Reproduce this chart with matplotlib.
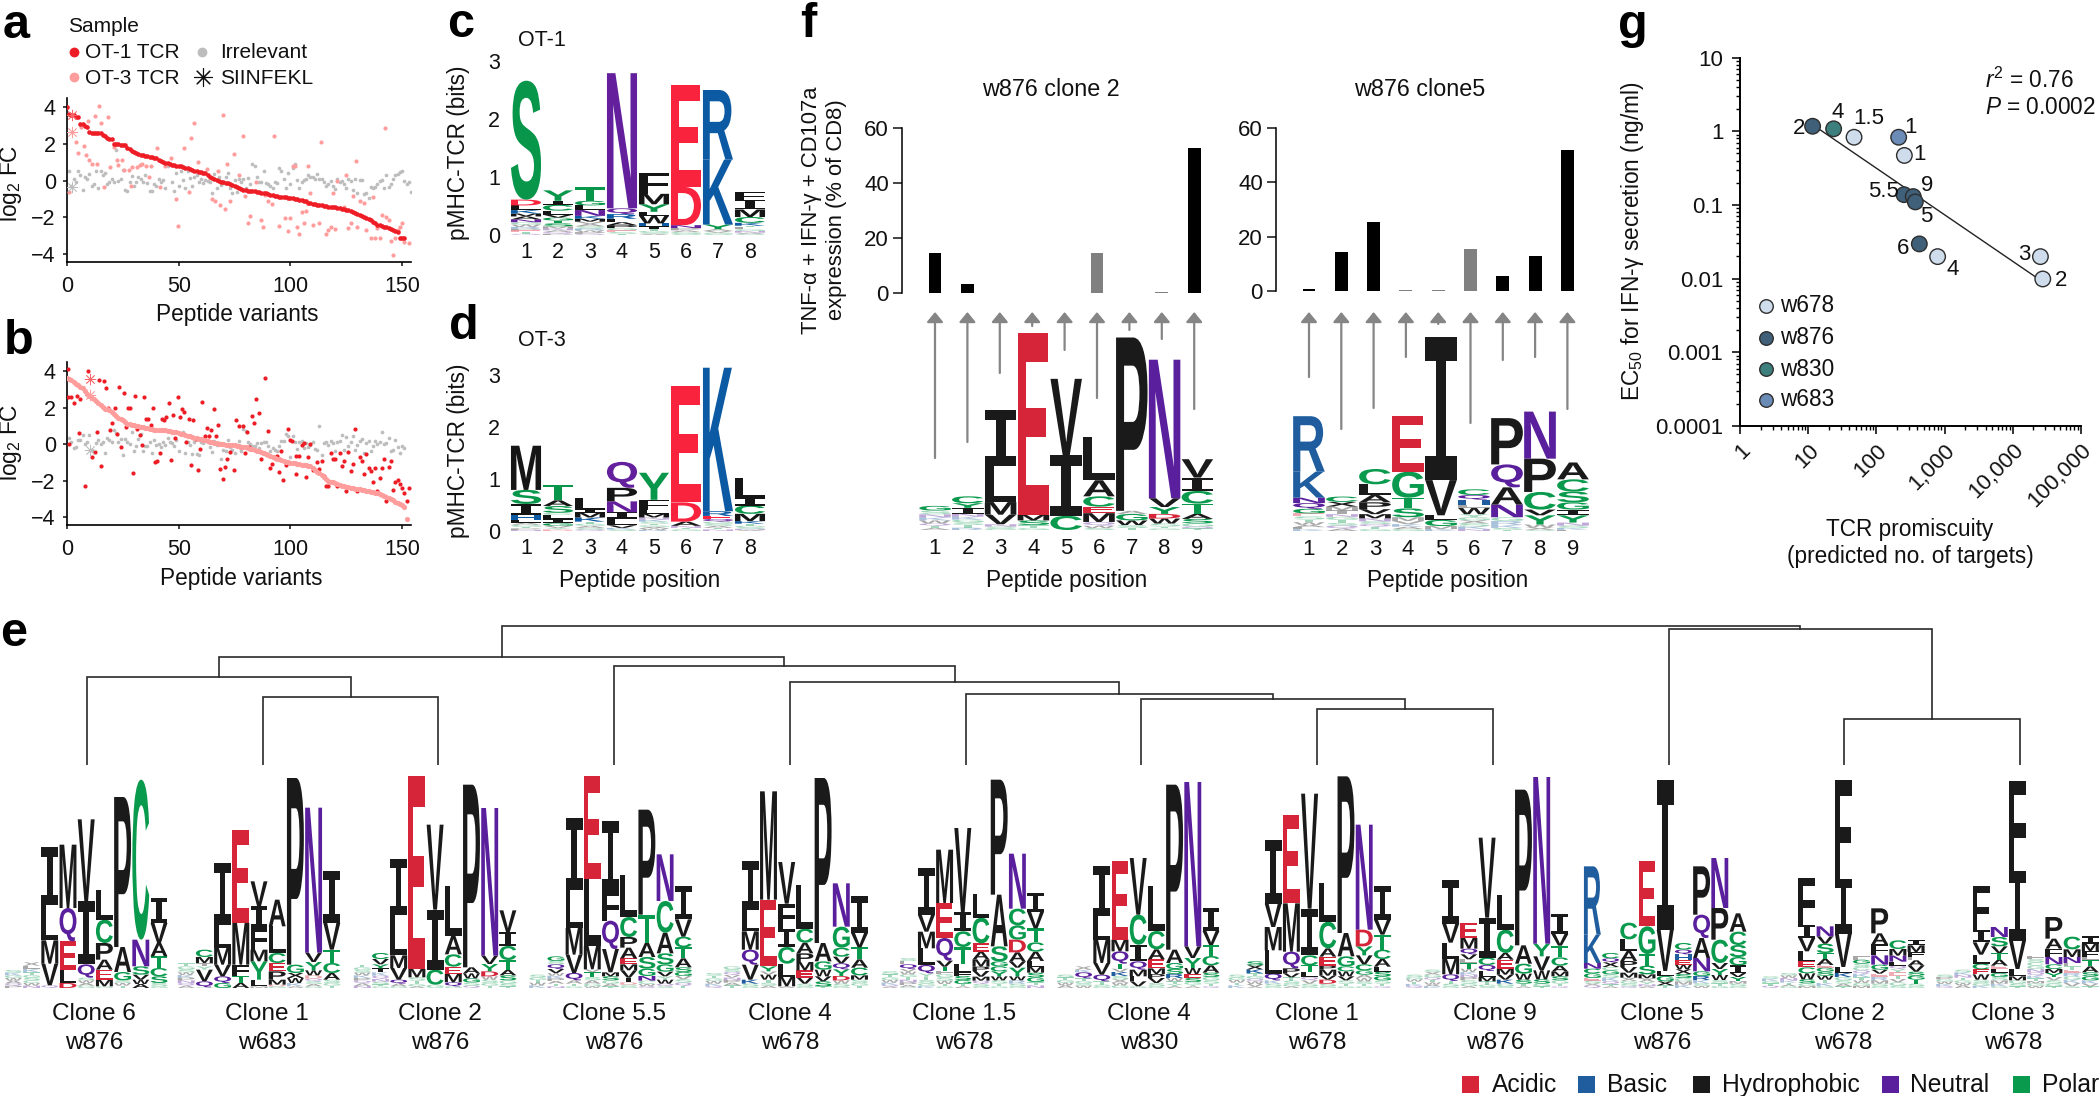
import numpy as np
import matplotlib
matplotlib.use("Agg")
import matplotlib.pyplot as plt
import matplotlib.ticker
from matplotlib.textpath import TextPath
from matplotlib.patches import PathPatch, Rectangle
from matplotlib.font_manager import FontProperties
from matplotlib.transforms import Affine2D

plt.rcParams['font.family'] = ['Liberation Sans', 'DejaVu Sans']
plt.rcParams['mathtext.fontset'] = 'custom'
plt.rcParams['mathtext.rm'] = 'Liberation Sans'
plt.rcParams['mathtext.it'] = 'Liberation Sans:italic'
plt.rcParams['mathtext.bf'] = 'Liberation Sans:bold'

# ---------- panel a / b data ----------
a_ot1 = [4.0,3.65,3.6,3.55,3.45,3.45,3.1,3.1,3.0,2.9,2.65,2.62,2.6,2.6,2.6,2.58,2.5,2.45,2.3,2.28,2.25,2.0,2.0,1.98,1.95,1.95,1.95,1.8,1.7,1.6,1.55,1.5,1.45,1.4,1.38,1.35,1.32,1.3,1.28,1.25,1.25,1.1,1.05,1.0,.95,.95,.9,.85,.85,.82,.8,.78,.75,.7,.68,.65,.6,.55,.5,.47,.45,.42,.4,.3,.2,.15,.1,.05,0,-.05,-.1,-.12,-.15,-.2,-.25,-.3,-.35,-.4,-.45,-.5,-.52,-.55,-.55,-.57,-.58,-.6,-.62,-.65,-.65,-.7,-.75,-.78,-.8,-.83,-.85,-.87,-.88,-.9,-.9,-.93,-.95,-.97,-1,-1,-1.03,-1.05,-1.1,-1.13,-1.2,-1.22,-1.25,-1.28,-1.3,-1.32,-1.35,-1.38,-1.4,-1.42,-1.42,-1.43,-1.45,-1.47,-1.5,-1.53,-1.55,-1.58,-1.6,-1.65,-1.7,-1.75,-1.8,-1.87,-1.95,-2,-2.05,-2.1,-2.15,-2.25,-2.3,-2.4,-2.42,-2.45,-2.5,-2.55,-2.6,-2.65,-2.7,-2.75,-2.8,-3.15,-3.15,-3.15]
a_ot3_x = [1,4,5,6.4,7.5,8.5,9.4,10,11,12.4,13.4,14.3,15.4,16.4,18.2,19.4,21,22.4,23,24.6,25.4,27.6,28.7,29,31.3,32.8,33.6,35.4,36.6,37.6,40.3,41.8,44,46.6,48.8,49.6,52.2,54.5,55.7,56.7,58.6,60.4,62.7,64.9,66.4,67.5,68.7,69.7,70.6,71.6,72.8,74.6,76.9,78.7,79.9,80.9,81.8,84.6,86.9,87.8,88.8,90,91.8,92.8,94.9,97.8,99,100,101,102,103,104,105,106,107,108,109,110,113,113.9,116,117,118,119,120,121,124,125,126,127,128,129.3,130,131,133,134,136,137,138,139,140,141,142.2,143,144,145,146,147,148,149,150,151,153]
a_ot3_y = [-.6,2.1,1.5,2.9,1.9,1.4,3.24,1.1,.9,3.5,.9,4.07,3.13,-.35,3.45,.75,1.85,1.14,.83,1.1,.56,.56,-.3,.74,.74,.83,.9,.8,.2,.8,1.77,-.34,.8,1.25,-1,-2.46,1.8,-.6,2.33,3.15,1,.4,.65,-1,-1.1,.5,-1.3,3.55,-1.55,.92,-1.1,1.43,.33,2.43,-.83,-2.33,-1.94,-.07,-2.15,-2.55,-.8,-1.12,-1.25,2.43,-2.46,-2.06,-2.75,-2.03,.8,.8,-2.5,-2.93,-1.7,-2.28,-1.65,.8,-.65,-2.43,-2.28,2.1,-2.88,-2.7,-2.55,-.67,-2.66,-.03,-1.43,.33,-2.6,-2.33,-.85,1.07,-2.5,-1.1,-1.2,-2.7,-3.15,-.9,-3.1,-2.6,-3.15,-1.88,2.86,-1.97,-2.15,-3.28,-4.05,-3.1,-2.7,-2.5,-2.3,-3.33,-3.42]
a_irr = [.5,-.3,.1,-.1,.55,.3,-.5,.2,.1,.35,-.3,-.2,.5,-.4,.5,.3,.4,-.2,-.05,.1,-.1,1.65,0,.1,.6,-.5,-.55,-.05,.25,-.3,-.1,.2,.1,-.05,.3,-.15,-.55,-.55,-.2,-.3,.1,-.1,.05,-.4,.8,.9,-.05,-.55,.4,-.3,.5,.05,-.4,.5,.15,-.3,.2,.3,-.1,.1,-.15,.05,0,-.1,-.7,.35,-.4,.2,-.25,-.15,.2,.4,-.4,-.65,.05,-.6,.1,-.1,.1,-.4,.15,-.2,.9,.8,.2,-.1,-.1,.55,-.15,-.2,-.3,-.4,-.1,-.15,.7,.5,.1,-.4,.4,-.2,.7,.9,.05,-.4,-.1,.05,.1,.3,.2,.2,.1,.35,.1,.1,-.1,-.3,-.2,0,-.3,-.45,.1,-.1,0,-.2,-.4,.1,0,-.5,.1,-.7,.05,.05,-.75,-.65,-.95,-.35,-.4,-.35,-.2,0,.05,-.4,.3,-.35,-.2,.1,.3,.35,.45,.5,0,-.2,-.1,-.6]
b_ot3 = [3.6,3.58,3.5,3.42,3.3,3.25,3.15,3.05,2.9,2.75,2.65,2.55,2.45,2.35,2.25,2.15,2.05,1.95,1.9,1.85,1.75,1.65,1.55,1.45,1.38,1.3,1.2,1.1,1.08,1.05,1.03,1.0,.97,.95,.92,.9,.88,.85,.82,.8,.79,.78,.77,.76,.75,.73,.71,.69,.67,.65,.62,.58,.54,.5,.45,.42,.4,.35,.33,.3,.28,.25,.2,.17,.14,.1,.08,.05,.02,0,-.01,-.02,-.03,-.04,-.05,-.07,-.09,-.11,-.13,-.15,-.18,-.21,-.24,-.27,-.3,-.35,-.4,-.45,-.5,-.55,-.6,-.65,-.7,-.75,-.8,-.84,-.88,-.92,-.96,-1,-1.02,-1.04,-1.06,-1.08,-1.1,-1.12,-1.14,-1.16,-1.18,-1.2,-1.3,-1.4,-1.5,-1.6,-1.7,-1.8,-1.9,-2,-2.05,-2.1,-2.15,-2.2,-2.23,-2.27,-2.3,-2.33,-2.37,-2.4,-2.42,-2.44,-2.46,-2.48,-2.5,-2.52,-2.55,-2.58,-2.61,-2.64,-2.67,-2.7,-2.75,-2.8,-2.85,-2.9,-2.95,-3.02,-3.08,-3.15,-3.22,-3.3,-3.35,-3.45,-4.1]
b_ot1_x = [.4,.4,1,2,3.3,4.3,5.2,6,7.2,8.2,9.3,11.2,12.4,13.3,14.3,15.2,16.4,17.3,18.2,19.3,20.3,21.3,22.2,23.3,24.3,25.4,26.3,27.3,28.4,29.4,30.3,31.3,32.5,33.4,34.3,35.4,36.4,37.5,38.4,39.4,40.4,41.5,42.4,43.4,44.4,45.5,46.4,47.5,48.5,49.6,50.6,51.5,52.5,53.4,54.5,55.5,56.6,57.6,58.5,59.6,60.6,61.6,62.5,63.6,64.6,65.7,66.6,67.6,68.7,69.7,70.6,71.8,72.8,74.6,75.7,76.9,77.6,78.7,79.6,80.8,81.5,82.7,83.7,84.8,85.8,86.9,87.6,88.8,89.9,90.8,91.8,92.8,93.8,94.8,95.8,96.9,97.9,98.8,99.9,100.9,102.7,102.7,104,105,106,107,108,109,110,112,113,114,115,116,117,118,119,120,121,122,123,124,125,126,127,128,129,130,131,132,133,134,135,136,137,138,139,140,141,142,143,144,145,146,147,148,149,150,151,152,153]
b_ot1_y = [4.1,2.6,0,2.6,2.27,2.65,.6,2.5,3.1,-2.3,4,-.7,-.44,.67,3.5,-1.22,3.44,3.05,2,.8,1.16,2,.53,3.13,-.13,2.82,.96,1.96,1.96,-1.56,2.62,.82,.5,-.07,2.6,1.4,1.36,1.04,1.96,-1,-.9,-.5,1.4,1.33,1.5,2.25,-.85,1.62,.35,2.6,1.5,1.95,1.76,.1,1.38,-1.16,1.3,.27,-1.44,-.27,2.3,.45,.9,.45,.8,1.9,.47,1.07,-1.36,-1.93,-1.24,-.8,-.45,-1.4,1.3,.98,-.18,.98,-.5,.67,-.18,1.53,1.15,2.5,1.7,-.8,-.5,3.63,.7,-1.33,-1.1,-.73,-.65,-1.55,-.4,-1.98,-1.13,.84,.2,.16,-.65,-1.64,-.67,-.05,.07,-1.82,-.7,.03,-1.42,-.96,-1.35,-.93,-1.76,-2.3,-2.3,-.47,-.82,-.82,-2.3,-.5,-1.18,-.95,-2.58,-.45,-1.47,-1.1,.84,-2.56,-.73,-.9,-1.62,-.55,-1.3,-1.45,-2.07,-1.33,-2.56,-1.85,-1.33,-.82,-3.1,-1.27,-.9,-2.5,-2.05,-1.96,-2.2,-2.4,-2.67,-3.1,-2.42]
b_irr = [.35,.1,-.2,-.15,.2,.25,.5,0,.1,.5,-.3,-.35,.05,.25,0,.1,-.5,.35,.2,.1,.8,.6,.1,.3,-.6,.3,.1,0,.65,-.4,-.1,.3,.55,-.35,-.1,-.1,.1,-.5,.2,-.05,0,-.15,.1,-.05,.35,.1,.05,-.1,.2,-.4,.55,.65,-.5,.1,-.05,-.55,.1,-.55,-.6,.1,.05,.35,.1,-.15,-.45,.15,-.05,.05,-.8,-.3,-.35,.2,-.15,-.3,-.5,-.05,.15,-.4,.85,.7,.1,0,-.1,-.1,.05,-.2,.05,.1,.1,-.1,-.35,-.2,-.3,-.35,-.1,.15,.15,.55,.45,-.7,.45,.1,-.25,.1,.15,-.2,.05,-.15,-.05,.1,-.25,-.3,1.0,-.6,.05,.1,-.05,.15,.05,-.4,.1,.15,.5,-.3,.4,-.1,.1,.45,-.3,-.05,.15,.3,-.5,.05,.15,-.35,-.1,.15,0,.1,.65,0,.05,.35,-.4,-.3,.2,-.15,-.5,-.1,-.2]
star_a_y = [3.55, 2.65, -.35]
star_a_x = 2.2
star_b_y = [3.55, 2.67, -.33]
star_b_x = 10.2
scatter_xticks = [0, 50, 100, 150]
scatter_yticks = [-4, -2, 0, 2, 4]

# ---------- logos: each column lists letters from top to bottom with stack heights ----------
logo_c = ["S2.05 D.1 L.08 K.06 M.05 A.05 N.05 G.04 W.04 R.03 P.03 E.03 T.03 Q.02",
          "Y.18 I.07 C.1 L.07 V.05 G.05 T.05 S.05 M.04 N.03 A.03 Q.03 P.02",
          "T.23 G.08 L.08 N.1 K.05 M.05 V.04 A.04 S.04 R.03 W.03 P.03 Q.02",
          "N2.33 Q.1 R.08 L.06 A.05 P.05 G.04 E.03 S.03 T.02",
          "F.36 M.18 Y.13 L.07 W.13 H.05 I.05 T.03 G.03 S.02 A.02",
          "E1.76 D.66 N.05 P.04 A.03 G.03 S.02",
          "R1.2 K1.12 Y.08 A.03 V.03 G.02 S.02",
          "F.13 I.17 M.13 C.1 K.05 T.03 L.03 G.03 N.03 A.02 S.02"]
logo_d = ["M.85 S.27 I.22 H.09 L.05 A.04 G.04 T.03 P.03 N.02",
          "T.3 A.11 S.13 C.04 L.08 I.08 G.05 V.04 Y.03 D.03",
          "L.22 I.06 M.09 K.08 T.04 G.04 A.04 S.03 Q.03",
          "Q.5 P.26 N.21 I.12 L.13 V.05 K.03 S.03",
          "Y.52 F.2 L.07 M.07 N.04 K.04 S.04 T.03 G.03 A.03 W.03 R.02",
          "E2.23 D.37 A.08 N.04 T.03 G.03",
          "K2.76 R.09 E.06 Q.05 G.04 S.04 A.04 T.03 N.03",
          "L.38 I.15 C.16 M.14 K.05 T.04 G.03 S.03 N.02 A.02"]
logo_f1 = ["G12 S10 N8 K8 W8 Q6 T6 A5",
           "C18 Y12 I15 N8 K8 G7 S7 T7 R6",
           "I145 L95 M33 V25 N6 S5 G4",
           "E475 M15 S12 T8 G5",
           "V200 I158 C37",
           "L113 A42 C27 E17 M23 Q10 W6 S5",
           "P453 A8 G17 W12 S8 T5",
           "N362 V23 Y18 D12 W13 S8 T5 G4",
           "V48 I35 C33 T27 A13 S12 G8 Q5 T4"]
logo_f2 = ["R145 K68 N14 Q15 G12 E8 S8 T7 W7 A6 L5 K5",
           "C14 X12 M10 I10 N7 G8 T8 S7 Q8 A6",
           "C40 L28 A19 P18 V13 M11 N8 S7 Q7 T6 G5",
           "E145 G68 T28 S23 M10 V8 K7 A6 G5",
           "I375 V92 L12 G16 M8 K5",
           "C15 Q12 H13 L9 W16 Y8 G8 X8 S8 K7 N5",
           "P121 Q60 A45 N33 G10 R10 K8 S5 T3",
           "N123 P87 C46 V15 Y24 W8 X6 S3",
           "A44 C32 S28 G19 I15 Y19 N8 S6 K5 L3"]
e_clone6_w876 = ["S8 K8 G8 W8 A8 Q7 P7","X10 L10 K10 T8 G8 S8 C8 W8 N7","I175 L105 M70 V65 Q8",
    "M190 Q100 E85 L40 D15","V245 I190 Q40 S8 W8 A8 G7","L90 C70 P50 A30 E30 M20 G5","P450 A75 G25 S8 W8 T7",
    "C480 N80 S25 V15 W13 A12","I75 V60 A40 T35 C25 S20 S10 G5"]
e_clone1_w683 = ["T9 G9 S9 W8 K8 P8 N8 Q8 A7","C22 M18 I10 Y10 V35 Q18 G2","I185 L70 M50 V35 Q20 G15",
    "E280 M125 F35 T20 A15","V75 I65 F65 M35 Y55 L20 M5","A80 L80 C30 E25 P25 M15 D5 G5","P560 G25 X15 W15 K10 A5",
    "N435 V28 Y25 W15 D10 Q8 S8 A7 G5","I155 V80 T40 C30 A20 S10 G8 T7"]
e_clone2_w876 = ["T8 G8 S8 W8 K8 P8 Q8 A8 N6","C18 V16 Y12 I12 K10 Q10 N8 S8 T6 G5","I170 L120 M38 V35 Q12 A8 G5",
    "E578 M25 S10 T10 G7 A5","V255 I180 C45 G10","L150 A55 C37 E22 M25 Q12 G5","P548 A18 W15 G12 S10 Q7",
    "N443 V25 Y22 D15 W10 S10 G8 T7","V65 I42 C42 T30 A16 S15 G10 S8 T5"]
e_clone55_w876 = ["S8 G8 T8 W8 K8","G14 S10 Q14 V12 W8 K8 P8 A8 T8 N5","I215 L115 M80 V55 Q22 A10 T8 G5",
    "E310 L200 M70 V8 T15 S10 A10 G8 W5","I210 F90 Q85 V70 M12 S12 G10 A8 T5","L125 C60 P32 A32 E18 M18 V22 I14 D7 S5 G5",
    "P315 T85 A42 S35 G22 N14 C10 W7 Q5","N140 C95 A62 S33 G22 V14 Y10 W12 Q8 S5","I100 V52 C32 T33 A27 S14 G12 V10 S10 Q10 T6"]
e_clone4_w678 = ["S8 T8 G8 W8 K7 Q6","G9 S8 Q9 V8 N7 P8 A8 T8","I145 L65 M55 Q45 V45 K12 S8 G5",
    "M325 E200 Y15 V10 W15 T10 S8 A7","V125 F75 I55 C50 L40 M28 A5","L130 C42 A32 P26 M25 E22 V18 S8 G5",
    "P495 A55 G25 W20 V15 S15 T5","N130 G63 C27 V20 Q18 Y20 D13 W10 S8 G5","I110 V43 T36 A25 C23 M13 S10 G8 T7"]
e_clone15_w678 = ["S9 T9 G8 W8 K7 Q5 A4","S9 L10 Q14 V8 W8 G8 T8 N8 P8 A6 G3","I140 V50 M50 L50 Q25 Y10 T10 S10 G8 K6",
    "M160 E105 Q68 V18 T12 F10 G10 S10 W10 T7 G5","V252 I58 C47 T50 L25 F12 S12 G12 T7 A5","L70 C77 E25 A23 M22 P13 V17 M12 Q10 S7 G5",
    "P345 A155 S45 G15 C15 Y15 W12 S10 T8 G5","N165 C50 G43 D38 A28 V18 Y26 W12 R10 S8 G5","I55 V50 T42 C28 A28 L18 M17 S14 G14 T10 N8"]
e_clone4_w830 = ["S8 T8 G8 W8 A8","X10 K8 Q18 T8 G7 S7 W7","I150 L70 M70 V35 Q20 T10 S5 G5",
    "E235 M35 Q37 T15 V10 K12 S10 X10 W8 G8","V170 C90 I50 Q25 M20 L15 V15 G5","L135 C55 A30 E27 M17 P12 V15 S10 G5",
    "P495 A40 G18 S15 R12 W10 T8 Y7 A5","N493 V35 Y30 W18 E12 S12 G8 T5 A5","I70 V42 T33 C28 A22 S13 G10 S10 T8 Q5"]
e_clone1_w678 = ["S8 G8 W8 T8 K8","S12 X12 K12 T8 G8 Q8 W8 V8 A4","I190 V70 M70 L70 Q20 K10 S8 G5",
    "E265 M145 Q50 P15 V12 T10 S10 G7 A5","V345 I140 C30 T20 L15 Q10 V10 S8 G5","L115 C80 A25 E27 P12 M18 V12 D12 S8 G5",
    "P470 A70 G30 C15 W15 V12 S10 T8 G5","N315 D50 Y27 V27 C18 G13 A10 W10 S8 T7 G5","I100 V45 T45 C28 A23 L15 S14 G12 S10 T8 Q5"]
e_clone9_w876 = ["S7 G7 W7 T7 K6 Q6","S7 X8 G8 Q8 T7 W7 A5 K5","I130 V57 L48 M47 Q20 T8 S8 G5",
    "E45 M32 Q17 V15 L10 T18 W10 K8 N7 P10 S10 G8 A5","V240 I120 C22 Q18 L18 M13 T10 G5 S5","L105 C70 A20 E27 M18 V15 K12 G8 S5",
    "P467 A55 G30 W18 S12 T8 A5","N500 Y38 V42 W27 S13 G8 T5","I60 V35 T35 C25 A18 M14 S12 G10 T8 Q5"]
e_clone5_w876 = ["R205 K85 N17 C14 G14 E8 S8 X6 Q8","C16 Q12 X14 C10 G12 S10 K10 Q10 T6 A5","C50 L35 A30 P18 V17 M15 X10 G8 S8 Q5",
    "E195 G83 T35 S26 M12 X10 Y8 N6 A5","I450 V123 L15 G16 X12 T8","C20 Q14 H18 E13 W14 X14 S12 G10 M10 K10",
    "P145 Q70 A60 N40 G14 R12 K10 S8 W6","N150 P95 C70 V18 Y18 W15 S10 T8 G6","A55 C40 S36 G25 I23 V12 Y12 M8 S8 G5"]
e_clone2_w678 = ["S7 K7 G7 T7 Q7","S7 W8 N8 K6 T6 A5 G5","F140 I40 V40 L30 E18 C18 W18 S12 G8 M6",
    "N30 V22 S28 T18 A18 E8 G12 S12 W12 T10 K10 G5","F295 I165 V100 L18 K12 G10 S10 A8 T5","F10 G12 S10 C10 Q10 K10 T10 W8 G8 M7",
    "P75 A33 F33 N28 G15 V12 E10 R10 M10 S8 G5","C26 M20 N18 L12 Q10 Y10 E10 T10 V10 G10 S7","I16 M20 F15 L10 A16 V18 S12 G12 T12 S8 G5"]
e_clone3_w678 = ["S7 P7 G7 W7 K7 Q5","S8 K8 N8 T8 G8 W7 A8","F130 I38 V37 L27 C17 E15 W16 S10 G8 K7",
    "N30 S28 V20 T20 A18 E10 L12 G12 S10 M10 K8 G5","F270 I210 V85 L22 M12 G10 S8 T5","F10 S10 C10 G10 N10 Q10 K8 T8 M7 G8 W6",
    "P65 A30 F25 N22 C14 M12 Y12 V10 S10 G8 T5","C38 M23 N18 L10 T10 E10 R10 G10 K10 V10 S5","I22 M22 F18 L8 T20 A18 S12 G12 K10 V8 T5"]
e_logos = [e_clone6_w876, e_clone1_w683, e_clone2_w876, e_clone55_w876, e_clone4_w678, e_clone15_w678,
           e_clone4_w830, e_clone1_w678, e_clone9_w876, e_clone5_w876, e_clone2_w678, e_clone3_w678]
e_labels = ["Clone 6\nw876","Clone 1\nw683","Clone 2\nw876","Clone 5.5\nw876","Clone 4\nw678","Clone 1.5\nw678",
            "Clone 4\nw830","Clone 1\nw678","Clone 9\nw876","Clone 5\nw876","Clone 2\nw678","Clone 3\nw678"]
# dendrogram: (left child, right child, merge height); ids 0-11 are leaves, new nodes count up from 12
dendro_merges = [(1,2,68),(0,12,88),(7,8,56.3),(6,14,65.7),(5,15,71),(4,16,83),(3,17,99.3),
                 (13,18,108),(10,11,46),(9,20,136),(19,21,139.3)]
# ---------- panel f ----------
f_pos = [1,2,3,4,5,6,7,8,9]
f1_vals = [14.7,3.4,0,0,0,14.7,0,0.4,52.7]
f1_gray = [0,0,0,0,0,1,0,1,0]
f2_vals = [0.6,14.4,25.5,0.4,0.4,15.6,5.6,13,52]
f2_gray = [0,0,0,1,1,1,0,0,0]
f1_arrow_len = [146,130,61,14,38,86,18,27,97]
f2_arrow_len = [65,117,96,45,12,111,48,45,97]
# ---------- panel g ----------
g_x = [11.6,23.6,47,212,257,254,347,372,426,790,25400,27500]
g_y = [1.17,1.08,.83,.83,.47,.138,.13,.11,.0296,.0199,.0199,.0099]
g_group = ['w876','w830','w678','w683','w678','w876','w876','w876','w876','w678','w678','w678']
g_text = ['2','4','1.5','1','1','5.5','9','5','6','4','3','2']
g_fit_x = [14.9, 21100]
g_fit_y = [1.05, .0107]
g_colors = {'w678':'#cfdcec','w876':'#3f6078','w830':'#3c7f7c','w683':'#6c8cb8'}

W, H = 2100, 1096
fig = plt.figure(figsize=(21, 10.96), dpi=100)

def box(l, t, r, b):
    return fig.add_axes([l/W, 1-b/H, (r-l)/W, (b-t)/H])
def txt(x, y, s, **k):
    k.setdefault('ha', 'center'); k.setdefault('va', 'center'); k.setdefault('fontsize', 16.3)
    return fig.text(x/W, 1-y/H, s, color=k.pop('color', '#111111'), **k)

# ---------- logo machinery ----------
FP = FontProperties(family='Liberation Sans', weight='bold')
FPI = FontProperties(family='Liberation Mono', weight='bold')
glyphs = {}
def glyph(ch):
    if ch not in glyphs:
        glyphs[ch] = TextPath((0, 0), ch, size=1, prop=FPI if ch == 'I' else FP)
    return glyphs[ch]
BRIGHT = {'ac':'#f9233e','ba':'#0b5aa3','hy':'#151515','ne':'#64209c','po':'#08964a'}
DEEP = {'ac':'#d62438','ba':'#1f5d9f','hy':'#1a1a1a','ne':'#5a1f9c','po':'#0a9a4e'}
GROUP = {}
for g, ls in {'ac':'DE','ba':'KRH','hy':'AFILMPVWX','ne':'NQ','po':'CGSTY'}.items():
    for c in ls: GROUP[c] = g
def draw_logo(ax, cols, faint, pal, wfrac):
    for i, col in enumerate(cols):
        y = 0.0
        for tok in reversed(col.split()):
            ch, h = tok[0], float(tok[1:])
            p = glyph(ch); bb = p.get_extents()
            tr = (Affine2D().translate(-bb.x0, -bb.y0).scale(wfrac/bb.width, h/bb.height)
                  .translate(i+1-wfrac/2, y))
            ax.add_patch(PathPatch(p.transformed(tr), fc=pal[GROUP[ch]], lw=0,
                                   alpha=0.38 if h <= faint else 1, clip_on=False))
            y += h
def logo_axes(l, t, r, b, n, ytop):
    ax = box(l, t, r, b)
    ax.set_xlim(.5, n+.5); ax.set_ylim(0, ytop)
    for s in ax.spines.values(): s.set_visible(False)
    ax.patch.set_alpha(0)
    return ax

# ---------- panels a, b ----------
RED, PINK, GRAY = '#ee1c25', '#ff9d9d', '#bdbdbd'
def scatter_panel(t, b, irr, line, dots_x, dots_y, line_c, dot_c, sx, sy, line_s):
    ax = box(67, t, 411, b)
    ax.set_xlim(0, 154); ax.set_ylim(-4.43, 4.5)
    ax.scatter(np.arange(1, len(irr)+1), irr, s=7, color=GRAY, lw=0, zorder=2)
    ax.scatter(dots_x, dots_y, s=9, color=dot_c, lw=0, zorder=3)
    ax.scatter(np.arange(len(line)), line, s=line_s, color=line_c, lw=0, zorder=4)
    for yy, c in zip(sy, ['#f8666a', PINK, GRAY]):
        ax.scatter([sx], [yy], marker=(8, 2, 0), s=60, color=c, lw=.55, zorder=5)
    ax.set_xticks(scatter_xticks); ax.set_yticks(scatter_yticks)
    ax.tick_params(labelsize=15.5, length=3, width=1.1, pad=5, colors='#111111')
    ax.tick_params(axis='x', pad=7)
    for s in ['top','right']: ax.spines[s].set_visible(False)
    for s in ['left','bottom']: ax.spines[s].set_linewidth(1.2)
    return ax
scatter_panel(98, 262, a_irr, a_ot1, a_ot3_x, a_ot3_y, RED, PINK, star_a_x, star_a_y, 11)
scatter_panel(362, 525, b_irr, b_ot3, b_ot1_x, b_ot1_y, PINK, RED, star_b_x, star_b_y, 14)
txt(237, 314, 'Peptide variants'); txt(241, 579, 'Peptide variants')
txt(10, 183, r'log$_{2}$ FC', rotation=90); txt(10, 442, r'log$_{2}$ FC', rotation=90)

# overlay for the hand-placed legends
ov = fig.add_axes([0, 0, 1, 1]); ov.set_xlim(0, W); ov.set_ylim(H, 0); ov.axis('off'); ov.patch.set_alpha(0)
txt(68, 26.5, 'Sample', ha='left', fontsize=15)
ov.scatter([74], [52], s=50, color=RED, lw=0); ov.scatter([74], [77], s=50, color=PINK, lw=0)
ov.scatter([202], [52], s=50, color=GRAY, lw=0)
ov.scatter([203], [77], marker=(8, 2, 0), s=170, color='#111111', lw=.8)
txt(85, 53, 'OT-1 TCR', ha='left', fontsize=15); txt(85, 78, 'OT-3 TCR', ha='left', fontsize=15)
txt(220, 53, 'Irrelevant', ha='left', fontsize=15); txt(220, 78, 'SIINFEKL', ha='left', fontsize=15)

# ---------- panels c, d ----------
def bits_panel(base, cols, pxbit, ytop):
    ax = logo_axes(510, base-pxbit*ytop, 766, base, 8, ytop)
    draw_logo(ax, cols, .045, BRIGHT, .94)
    ax.set_xticks(range(1, 9)); ax.set_yticks([0, 1, 2, 3])
    ax.tick_params(length=0, labelsize=15.5, colors='#111111')
    ax.tick_params(axis='x', pad=5); ax.tick_params(axis='y', pad=7)
    return ax
bits_panel(235, logo_c, 58, 3.2)
bits_panel(531, logo_d, 52, 3.2)
txt(458, 153, 'pMHC-TCR (bits)', rotation=90); txt(458, 451, 'pMHC-TCR (bits)', rotation=90)
txt(518, 41, 'OT-1', ha='left', fontsize=15.5); txt(518, 341, 'OT-3', ha='left', fontsize=15.5)
txt(640, 580, 'Peptide position')

# ---------- panel f ----------
def bar_panel(spine_x, y0, vals, grays, col1, step):
    r = spine_x + 340
    ax = box(spine_x, 128, r, y0)
    ax.set_ylim(0, 60)
    ax.set_xlim(1+(spine_x-col1)/step, 1+(r-col1)/step)
    ax.bar(f_pos, vals, width=.4, color=['#808080' if g else 'black' for g in grays], lw=0)
    for s in ['top','right','bottom']: ax.spines[s].set_visible(False)
    ax.spines['left'].set_linewidth(1.1)
    ax.set_xticks([]); ax.set_yticks([0, 20, 40, 60])
    ax.tick_params(length=6.5, width=1.1, labelsize=16, pad=3, colors='#111111')
    ax.patch.set_alpha(0)
def arrow_panel(col1, step, lengths):
    ax = box(col1-step*.5, 312, col1+step*8.5, 470)
    ax.set_xlim(.5, 9.5); ax.set_ylim(158, 0); ax.axis('off'); ax.patch.set_alpha(0)
    for p, ln in zip(f_pos, lengths):
        ax.annotate('', xy=(p, 0), xytext=(p, ln), annotation_clip=False,
                    arrowprops=dict(arrowstyle='-|>,head_length=0.4,head_width=0.33', mutation_scale=15,
                                    color='#858585', lw=1.6, shrinkA=0, shrinkB=0))
def f_logo(col1, step, cols, baseline):
    ax = logo_axes(col1-step/2, baseline-205, col1+step*8.5, baseline, 9, 205*2.613)
    draw_logo(ax, cols, 10, DEEP, .96)
    ax.set_yticks([]); ax.set_xticks(range(1, 10))
    ax.tick_params(length=0, labelsize=16, pad=6, colors='#111111')
bar_panel(902, 293, f1_vals, f1_gray, 935, 32.4)
bar_panel(1276, 291, f2_vals, f2_gray, 1309, 32.3)
arrow_panel(935, 32.4, f1_arrow_len)
arrow_panel(1309, 32.3, f2_arrow_len)
f_logo(935, 32.8, logo_f1, 530)
f_logo(1309, 33, logo_f2, 531)
txt(1051, 90, 'w876 clone 2', fontsize=16.8); txt(1420, 90, 'w876 clone5', fontsize=16.8)
txt(1067, 580, 'Peptide position'); txt(1448, 580, 'Peptide position')
txt(824, 210, 'TNF-α + IFN-γ + CD107a\nexpression (% of CD8)', rotation=90, fontsize=15.8, linespacing=1.3, multialignment='center')

# ---------- panel g ----------
ax = box(1740, 57.6, 2081, 426)
ax.set_xscale('log'); ax.set_yscale('log'); ax.set_xlim(1, 1e5); ax.set_ylim(1e-4, 10)
ax.plot(g_fit_x, g_fit_y, color='#222222', lw=1, zorder=2)
ax.scatter(g_x, g_y, s=125, c=[g_colors[g] for g in g_group], edgecolors='#2e2e2e', lw=1, zorder=3)
g_off = [(-13.7,-2.6),(4,16.6),(15,19),(12,9.4),(15,1),(-21,3.4),(14,11),(10.7,-15),(-16,-5),(14.7,-12.4),(-16,2.6),(18,-2)]
for x, y, s, (dx, dy) in zip(g_x, g_y, g_text, g_off):
    ax.annotate(s, (x, y), xytext=(dx*.72, dy*.72), textcoords='offset points', ha='center', va='center', fontsize=16, color='#111111')
ax.set_xticks([1, 10, 100, 1000, 10000, 100000])
ax.set_xticklabels(['1','10','100','1,000','10,000','100,000'], rotation=45, ha='right', rotation_mode='anchor')
ax.set_yticks([1e-4, 1e-3, 1e-2, .1, 1, 10])
ax.set_yticklabels(['0.0001','0.001','0.01','0.1','1','10'])
ax.tick_params(which='major', length=6, width=1.2, labelsize=16, pad=4, colors='#111111')
ax.tick_params(which='minor', length=3, width=1)
ax.tick_params(axis='y', which='major', pad=6)
ax.xaxis.set_minor_locator(matplotlib.ticker.LogLocator(base=10, subs=range(2, 10), numticks=12))
ax.yaxis.set_minor_locator(matplotlib.ticker.LogLocator(base=10, subs=range(2, 10), numticks=12))
ax.xaxis.set_minor_formatter(matplotlib.ticker.NullFormatter())
ax.yaxis.set_minor_formatter(matplotlib.ticker.NullFormatter())
for s in ['top','right']: ax.spines[s].set_visible(False)
for s in ['left','bottom']: ax.spines[s].set_linewidth(1.4)
ax.patch.set_alpha(0)
for y, name in zip([305.6, 337.6, 369, 400], ['w678','w876','w830','w683']):
    ov.scatter([1766], [y], s=95, color=g_colors[name], edgecolors='#2e2e2e', lw=1)
    txt(1780, y, name, ha='left')
txt(1985, 80, r'$\mathit{r}^{2}$ = 0.76', ha='left'); txt(1985, 108, r'$\mathit{P}$ = 0.0002', ha='left')
txt(1910, 530, 'TCR promiscuity'); txt(1910, 556, '(predicted no. of targets)')
txt(1633, 241, r'EC$_{50}$ for IFN-γ secretion (ng/ml)', rotation=90)

# ---------- panel e ----------
dax = box(0, 620, W, 765)
step = (2020-87)/11
dax.set_xlim(-87/step, (W-87)/step); dax.set_ylim(0, 145); dax.axis('off'); dax.patch.set_alpha(0)
nodes = {i: (float(i), 0.0) for i in range(12)}
for k, (a, b, h) in enumerate(dendro_merges):
    xa, ya = nodes[a]; xb, yb = nodes[b]
    dax.plot([xa, xa, xb, xb], [ya, h, h, yb], color='#2a2a2a', lw=1.2, solid_joinstyle='miter')
    nodes[12+k] = ((xa+xb)/2, h)
e_col1 = [13.4, 186.2, 362.3, 537.7, 713.9, 890, 1065.4, 1236.8, 1414.3, 1592.4, 1770.5, 1944.7]
e_lab_x = [94, 267, 440, 614, 790, 964, 1149, 1317, 1495, 1662, 1843, 2013]
for logo, c1, lab, lx in zip(e_logos, e_col1, e_labels, e_lab_x):
    s = 18.2
    axl = logo_axes(c1-s/2, 772, c1+s*8.5, 988, 9, 648)
    axl.set_xticks([]); axl.set_yticks([])
    draw_logo(axl, logo, 10, DEEP, .93)
    a, b = lab.split('\n')
    txt(lx, 1014, a, fontsize=17.6); txt(lx, 1043, b, fontsize=17.6)
for x, tx, name, g in [(1470,1492,'Acidic','ac'),(1586,1607,'Basic','ba'),(1701,1722,'Hydrophobic','hy'),(1890,1910,'Neutral','ne'),(2021,2042,'Polar','po')]:
    ov.add_patch(Rectangle((x-8.5, 1084-8.5), 17, 17, color=DEEP[g], lw=0))
    txt(tx, 1085, name, ha='left', fontsize=17.7)

# panel letters
for x, y, s in [(3,38,'a'),(4,354,'b'),(447,37,'c'),(449,339,'d'),(0,646,'e'),(800,37,'f'),(1618,38,'g')]:
    fig.text(x/W, 1-y/H, s, fontsize=35, fontweight='bold', ha='left', va='baseline', color='black')

fig.savefig('out.png', dpi=100)
